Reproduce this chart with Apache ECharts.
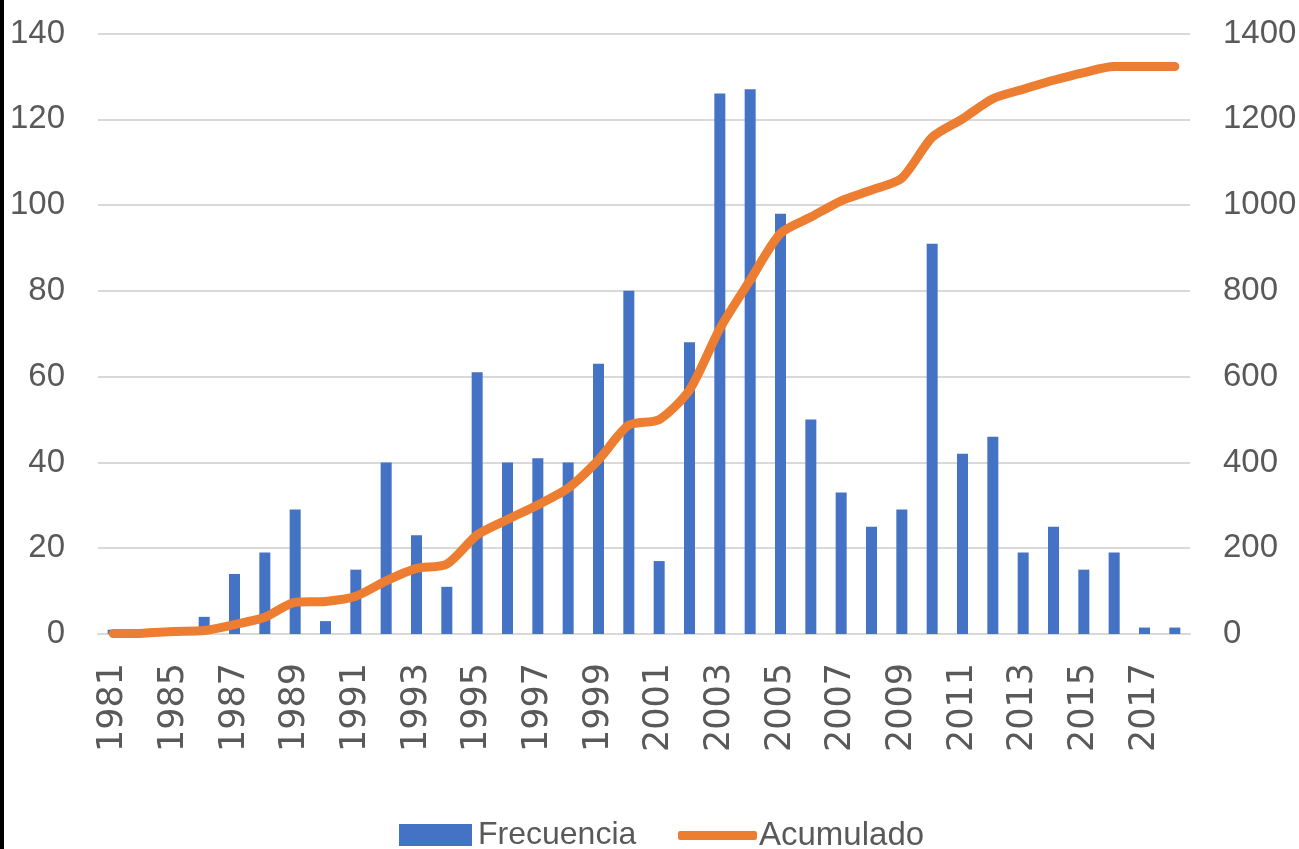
<!DOCTYPE html>
<html>
<head>
<meta charset="utf-8">
<script src="https://cdn.jsdelivr.net/npm/echarts@6/dist/echarts.min.js"></script>
<style>
html,body{margin:0;padding:0;background:#fff;}
#wrap{width:1299px;height:849px;position:relative;}
#bar{position:absolute;left:0;top:0;width:4px;height:849px;background:#000;z-index:2;}
#c{position:absolute;left:0;top:0;width:1299px;height:849px;}
</style>
</head>
<body>
<div id="wrap"><div id="c"></div><div id="bar"></div></div>
<script>
const years = ['1981','1984','1985','1986','1987','1988','1989','1990','1991','1992','1993','1994','1995','1996','1997','1998','1999','2000','2001','2002','2003','2004','2005','2006','2007','2008','2009','2010','2011','2012','2013','2014','2015','2016','2017','2018'];
const frecuencia = [1,0,1,4,14,19,29,3,15,40,23,11,61,40,41,40,63,80,17,68,126,127,98,50,33,25,29,91,42,46,19,25,15,19,1.5,1.5];
const acumulado = [1,2,6,8,22,39,74,76,88,124,153,163,231,267,301,340,406,487,500,569,712,825,934,972,1010,1035,1063,1158,1201,1248,1270,1291,1309,1323,1323,1323];
const leftAxis = {min:0, max:140, interval:20};
const rightAxis = {min:0, max:1400, interval:200};

const txt = '#595959';
const font = '"Liberation Sans", Arial, sans-serif';
const chart = echarts.init(document.getElementById('c'));
chart.setOption({
  animation:false,
  grid:{left:98, right:109, top:33.5, bottom:215, containLabel:false, outerBoundsMode:'none'},
  legend:[
    {left:394, top:814, itemWidth:73, itemHeight:22, itemGap:40,
     textStyle:{color:txt, fontFamily:font, fontSize:32, padding:[0,0,0,1]},
     data:[{name:'Frecuencia', icon:'rect'}]},
    {left:673, top:814, itemWidth:79, itemHeight:9, itemGap:40,
     textStyle:{color:txt, fontFamily:font, fontSize:33, padding:[0,0,0,-3]},
     data:[{name:'Acumulado', icon:'roundRect', itemStyle:{color:'#ed7d31'}}]}
  ],
  xAxis:{
    type:'category', data:years, boundaryGap:true,
    axisLine:{lineStyle:{color:'#d9d9d9', width:2}},
    axisTick:{show:false},
    axisLabel:{interval:1, rotate:90, color:txt, fontFamily:'"DejaVu Sans", sans-serif', fontSize:35, margin:29}
  },
  yAxis:[
    {type:'value', min:leftAxis.min, max:leftAxis.max, interval:leftAxis.interval,
     axisLine:{show:false}, axisTick:{show:false},
     splitLine:{lineStyle:{color:'#d9d9d9', width:2}},
     axisLabel:{color:txt, fontFamily:font, fontSize:33, margin:33}},
    {type:'value', min:rightAxis.min, max:rightAxis.max, interval:rightAxis.interval,
     axisLine:{show:false}, axisTick:{show:false}, splitLine:{show:false},
     axisLabel:{color:txt, fontFamily:font, fontSize:33, margin:33, formatter:function(v){return String(v);}}}
  ],
  series:[
    {name:'Frecuencia', type:'bar', data:frecuencia, barWidth:11, yAxisIndex:0,
     itemStyle:{color:'#4472c4'}},
    {name:'Acumulado', type:'line', data:acumulado, yAxisIndex:1, smooth:0.25,
     showSymbol:false, symbol:'none',
     lineStyle:{color:'#ed7d31', width:9, cap:'round', join:'round'},
     itemStyle:{color:'#ed7d31'}}
  ]
});
</script>
</body>
</html>
